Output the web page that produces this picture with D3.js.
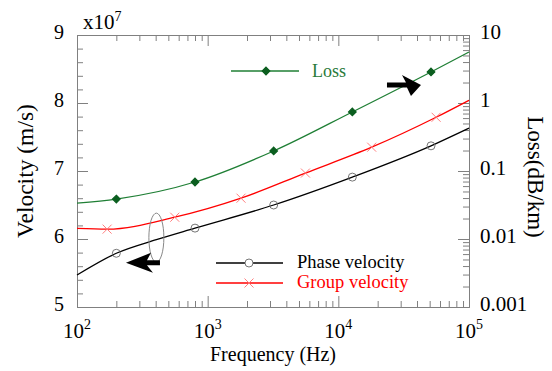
<!DOCTYPE html>
<html>
<head>
<meta charset="utf-8">
<script src="https://cdn.jsdelivr.net/npm/d3@7"></script>
<style>
  html, body { margin: 0; padding: 0; background: #fff; }
</style>
</head>
<body>
<svg id="chart" width="552" height="371"></svg>
<script>
// Phase velocity (x10^7 m/s)
const phaseFreq = [100, 200, 405, 800, 3200, 12800, 51200, 100000];
const phaseVel  = [5.47, 5.79, 5.99, 6.16, 6.50, 6.91, 7.37, 7.63];
const phaseMarkFreq = [200, 800, 3200, 12800, 51200];

// Group velocity (x10^7 m/s)
const groupFreq = [100, 170, 560, 1800, 5600, 18000, 56000, 100000];
const groupVel  = [6.155, 6.145, 6.32, 6.60, 6.97, 7.35, 7.79, 8.04];
const groupMarkFreq = [170, 560, 1800, 5600, 18000, 56000];

// Loss (dB/km)
const lossFreq = [100, 200, 800, 3200, 12800, 51200, 100000];
const lossVal  = [0.0338, 0.0387, 0.0689, 0.197, 0.738, 2.86, 5.62];
const lossMarkFreq = [200, 800, 3200, 12800, 51200];

// Achsen
const xMajor = [1e2, 1e3, 1e4, 1e5];
const velTicks = [5, 6, 7, 8, 9];
const lossTicks = [0.001, 0.01, 0.1, 1, 10];
const lossTickLabels = ['0.001', '0.01', '0.1', '1', '10'];

// Annotationen (Datenkoordinaten)
const ellipseAt = { f: 405, v: 6.02 };
const leftArrowAt = { f: 237, v: 5.65 };
const rightArrowAt = { f: 42900, l: 1.84 };

const svg = d3.select('#chart');
const margin = { top: 35, right: 83, bottom: 64, left: 77 };
const width = 552 - margin.left - margin.right;
const height = 371 - margin.top - margin.bottom;
const axisColor = '#808080';
const serif = "'Liberation Serif', 'Times New Roman', Times, serif";

const g = svg.append('g')
    .attr('transform', `translate(${margin.left},${margin.top})`);

// Skalen
const x = d3.scaleLog().domain([1e2, 1e5]).range([0, width]);
const yV = d3.scaleLinear().domain([5, 9]).range([height, 0]);
const yL = d3.scaleLog().domain([1e-3, 10]).range([height, 0]);

const isDecade = v => Math.abs(Math.log10(v) - Math.round(Math.log10(v))) < 1e-9;
const xMinor = x.ticks().filter(v => !isDecade(v));
const lossMinor = yL.ticks().filter(v => !isDecade(v));
const velMinor = d3.range(5, 9.001, 0.2).filter(v => Math.abs(v - Math.round(v)) > 1e-6);

function styleAxis(sel) {
    sel.select('.domain').attr('stroke', axisColor);
    sel.selectAll('.tick line').attr('stroke', axisColor);
    sel.selectAll('.tick text').remove();
}

// Achsen: Haupt- und Nebenstriche nach innen
g.append('g').attr('transform', `translate(0,${height})`)
    .call(d3.axisBottom(x).tickValues(xMajor).tickSize(-11).tickSizeOuter(0)).call(styleAxis);
g.append('g').attr('transform', `translate(0,${height})`)
    .call(d3.axisBottom(x).tickValues(xMinor).tickSize(-6).tickSizeOuter(0)).call(styleAxis);
g.append('g')
    .call(d3.axisTop(x).tickValues(xMajor).tickSize(-11).tickSizeOuter(0)).call(styleAxis);
g.append('g')
    .call(d3.axisTop(x).tickValues(xMinor).tickSize(-6).tickSizeOuter(0)).call(styleAxis);
g.append('g')
    .call(d3.axisLeft(yV).tickValues(velTicks).tickSize(-11).tickSizeOuter(0)).call(styleAxis);
g.append('g')
    .call(d3.axisLeft(yV).tickValues(velMinor).tickSize(-6).tickSizeOuter(0)).call(styleAxis);
g.append('g').attr('transform', `translate(${width},0)`)
    .call(d3.axisRight(yL).tickValues(lossTicks).tickSize(-11).tickSizeOuter(0)).call(styleAxis);
g.append('g').attr('transform', `translate(${width},0)`)
    .call(d3.axisRight(yL).tickValues(lossMinor).tickSize(-6).tickSizeOuter(0)).call(styleAxis);

// Tick-Beschriftungen
g.selectAll('.vlab').data(velTicks).enter().append('text')
    .attr('x', -13).attr('y', d => yV(d) + 3.5)
    .attr('text-anchor', 'end').style('font-family', serif).style('font-size', '20px')
    .text(d => d);

g.selectAll('.llab').data(lossTicks).enter().append('text')
    .attr('x', width + 11).attr('y', d => yL(d) + 3.5)
    .style('font-family', serif).style('font-size', '21px')
    .text((d, i) => lossTickLabels[i]);

const xl = g.selectAll('.xlab').data(xMajor).enter().append('text')
    .attr('x', d => x(d)).attr('y', height + 31)
    .attr('text-anchor', 'middle').style('font-family', serif).style('font-size', '21px');
xl.append('tspan').text('10');
xl.append('tspan').attr('dy', -9).style('font-size', '14px').text(d => Math.round(Math.log10(d)));

const mult = g.append('text').attr('x', 6).attr('y', -6)
    .style('font-family', serif).style('font-size', '21px');
mult.append('tspan').text('x10');
mult.append('tspan').attr('dy', -8).style('font-size', '14px').text('7');

// Achsentitel
svg.append('text')
    .attr('transform', `translate(33,${margin.top + height / 2}) rotate(-90)`)
    .attr('text-anchor', 'middle').style('font-family', serif).style('font-size', '23.5px')
    .text('Velocity (m/s)');
svg.append('text')
    .attr('transform', `translate(528,177) rotate(90)`)
    .attr('text-anchor', 'middle').style('font-family', serif).style('font-size', '23px')
    .text('Loss(dB/km)');
svg.append('text')
    .attr('x', margin.left + width / 2).attr('y', 361)
    .attr('text-anchor', 'middle').style('font-family', serif).style('font-size', '20px')
    .text('Frequency (Hz)');

// Kurven
const velLine = d3.line().x(d => x(d[0])).y(d => yV(d[1])).curve(d3.curveMonotoneX);
const lossLine = d3.line().x(d => x(d[0])).y(d => yL(d[1])).curve(d3.curveMonotoneX);

const phaseData = phaseFreq.map((f, i) => [f, phaseVel[i]]);
const groupData = groupFreq.map((f, i) => [f, groupVel[i]]);
const lossData = lossFreq.map((f, i) => [f, lossVal[i]]);

g.append('path').datum(lossData).attr('d', lossLine)
    .attr('fill', 'none').attr('stroke', '#1f7f35').attr('stroke-width', 1.3);
g.append('path').datum(groupData).attr('d', velLine)
    .attr('fill', 'none').attr('stroke', '#ff0000').attr('stroke-width', 1.3);
g.append('path').datum(phaseData).attr('d', velLine)
    .attr('fill', 'none').attr('stroke', '#000').attr('stroke-width', 1.3);

// Marker
const lookup = (freqs, vals, f) => vals[freqs.indexOf(f)];
const diamond = 'M0,-3.8L3.8,0L0,3.8L-3.8,0Z';
const cross = 'M-4.5,-4.5L4.5,4.5M-4.5,4.5L4.5,-4.5';

g.selectAll('.lm').data(lossMarkFreq).enter().append('path')
    .attr('transform', d => `translate(${x(d)},${yL(lookup(lossFreq, lossVal, d))})`)
    .attr('d', diamond).attr('fill', '#0b5e1f').attr('stroke', '#0b5e1f').attr('stroke-width', 1.2);
g.selectAll('.gm').data(groupMarkFreq).enter().append('path')
    .attr('transform', d => `translate(${x(d)},${yV(lookup(groupFreq, groupVel, d))})`)
    .attr('d', cross).attr('fill', 'none').attr('stroke', '#ff7070').attr('stroke-width', 0.9);
g.selectAll('.pm').data(phaseMarkFreq).enter().append('circle')
    .attr('cx', d => x(d)).attr('cy', d => yV(lookup(phaseFreq, phaseVel, d)))
    .attr('r', 4).attr('fill', 'none').attr('stroke', '#666').attr('stroke-width', 0.9);

// Ellipse und Pfeile
g.append('ellipse')
    .attr('cx', x(ellipseAt.f)).attr('cy', yV(ellipseAt.v))
    .attr('rx', 7.5).attr('ry', 24.5)
    .attr('fill', 'none').attr('stroke', '#888').attr('stroke-width', 1);

g.append('path')
    .attr('transform', `translate(${x(leftArrowAt.f)},${yV(leftArrowAt.v)})`)
    .attr('d', 'M0,0L25,-10L21,-2.5L34,-2.5L34,2.5L21,2.5L27,10Z')
    .attr('fill', '#000');
g.append('path')
    .attr('transform', `translate(${x(rightArrowAt.f)},${yL(rightArrowAt.l)})`)
    .attr('d', 'M0,0L-19,-10L-15,-2.5L-34,-2.5L-34,2.5L-14,2.5L-10,11Z')
    .attr('fill', '#000');

// Legenden
const legLoss = g.append('g');
legLoss.append('line').attr('x1', 154).attr('x2', 222).attr('y1', 36).attr('y2', 36)
    .attr('stroke', '#1f7f35').attr('stroke-width', 1.3);
legLoss.append('path').attr('transform', 'translate(189,36)').attr('d', diamond)
    .attr('fill', '#0b5e1f').attr('stroke', '#0b5e1f').attr('stroke-width', 1.2);
legLoss.append('text').attr('x', 235).attr('y', 42)
    .style('font-family', serif).style('font-size', '18px')
    .attr('fill', '#2a7a3a').text('Loss');

const legPhase = g.append('g');
legPhase.append('line').attr('x1', 139).attr('x2', 206).attr('y1', 228).attr('y2', 228)
    .attr('stroke', '#000').attr('stroke-width', 1.3);
legPhase.append('circle').attr('cx', 172).attr('cy', 228).attr('r', 4)
    .attr('fill', '#fff').attr('stroke', '#666').attr('stroke-width', 0.9);
legPhase.append('text').attr('x', 220).attr('y', 233)
    .style('font-family', serif).style('font-size', '18.5px')
    .attr('fill', '#000').text('Phase velocity');

const legGroup = g.append('g');
legGroup.append('line').attr('x1', 139).attr('x2', 206).attr('y1', 248).attr('y2', 248)
    .attr('stroke', '#ff0000').attr('stroke-width', 1.3);
legGroup.append('path').attr('transform', 'translate(172,248)').attr('d', cross)
    .attr('fill', 'none').attr('stroke', '#ff7070').attr('stroke-width', 0.9);
legGroup.append('text').attr('x', 220).attr('y', 253)
    .style('font-family', serif).style('font-size', '18.5px')
    .attr('fill', '#ff0000').text('Group velocity');
</script>
</body>
</html>
